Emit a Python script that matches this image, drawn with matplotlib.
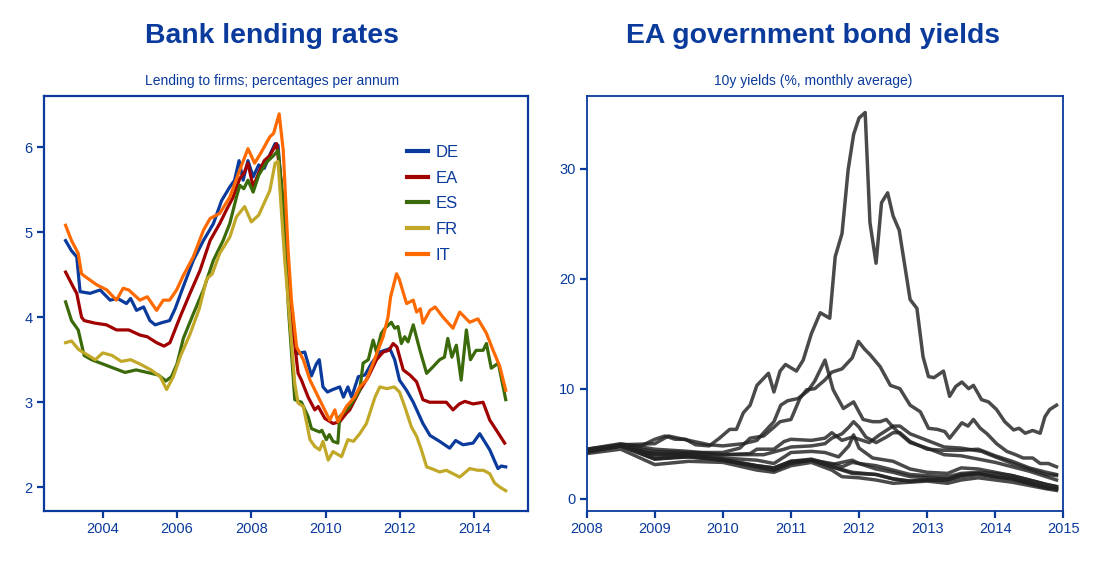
import matplotlib
matplotlib.use("Agg")
import matplotlib.pyplot as plt

plt.rcParams['font.family'] = ['Liberation Sans', 'DejaVu Sans']

NAVY = '#0a3a9c'

# ---------------- Left panel data: bank lending rates (%) ----------------
de_t = [2003.0, 2003.16, 2003.3, 2003.39, 2003.66, 2003.93, 2004.2, 2004.4, 2004.64, 2004.75, 2004.91, 2005.1,
        2005.27, 2005.41, 2005.63, 2005.8, 2005.95, 2006.17, 2006.44, 2006.71, 2006.98, 2007.2, 2007.42, 2007.55,
        2007.67, 2007.78, 2007.91, 2008.05, 2008.2, 2008.35, 2008.5, 2008.64, 2008.72, 2008.85, 2009.03, 2009.22,
        2009.44, 2009.55, 2009.62, 2009.75, 2009.83, 2009.93, 2010.05, 2010.2, 2010.38, 2010.48, 2010.6, 2010.7,
        2010.88, 2011.06, 2011.24, 2011.46, 2011.73, 2011.86, 2011.99, 2012.18, 2012.36, 2012.62, 2012.81, 2013.07,
        2013.34, 2013.5, 2013.7, 2013.97, 2014.15, 2014.42, 2014.64, 2014.73, 2014.85]
de_v = [4.90, 4.78, 4.71, 4.30, 4.28, 4.32, 4.20, 4.22, 4.16, 4.22, 4.08, 4.12,
        3.96, 3.91, 3.94, 3.96, 4.10, 4.36, 4.67, 4.90, 5.10, 5.37, 5.53, 5.61,
        5.84, 5.61, 5.84, 5.65, 5.79, 5.75, 5.91, 6.04, 6.02, 5.30, 4.20, 3.57,
        3.59, 3.42, 3.31, 3.45, 3.50, 3.18, 3.12, 3.15, 3.18, 3.06, 3.18, 3.06,
        3.30, 3.32, 3.46, 3.59, 3.63, 3.50, 3.26, 3.14, 3.00, 2.75, 2.61, 2.54,
        2.46, 2.55, 2.50, 2.52, 2.63, 2.44, 2.22, 2.25, 2.24]

ea_t = [2003.0, 2003.2, 2003.3, 2003.43, 2003.5, 2003.79, 2004.1, 2004.37, 2004.7, 2005.0, 2005.2, 2005.45,
        2005.65, 2005.81, 2006.08, 2006.35, 2006.62, 2006.89, 2007.15, 2007.33, 2007.51, 2007.69, 2007.8,
        2007.91, 2008.05, 2008.23, 2008.35, 2008.5, 2008.68, 2008.8, 2009.03, 2009.26, 2009.35, 2009.53,
        2009.71, 2009.8, 2009.98, 2010.2, 2010.38, 2010.56, 2010.65, 2010.92, 2011.15, 2011.37, 2011.55,
        2011.7, 2011.82, 2011.92, 2012.09, 2012.27, 2012.45, 2012.62, 2012.8, 2013.07, 2013.25, 2013.43,
        2013.6, 2013.75, 2013.97, 2014.24, 2014.42, 2014.6, 2014.82]
ea_v = [4.53, 4.36, 4.28, 4.00, 3.96, 3.93, 3.91, 3.85, 3.85, 3.79, 3.77, 3.70,
        3.66, 3.70, 4.00, 4.28, 4.55, 4.90, 5.10, 5.26, 5.41, 5.63, 5.69,
        5.81, 5.53, 5.73, 5.84, 5.90, 6.04, 5.60, 4.20, 3.34, 3.26, 3.06,
        2.91, 2.95, 2.81, 2.75, 2.77, 2.87, 2.91, 3.14, 3.30, 3.50, 3.59,
        3.61, 3.69, 3.65, 3.38, 3.32, 3.24, 3.03, 3.00, 3.00, 3.00, 2.91,
        2.98, 3.01, 2.98, 3.00, 2.79, 2.67, 2.52]

es_t = [2003.0, 2003.16, 2003.34, 2003.5, 2003.7, 2004.0, 2004.3, 2004.6, 2004.9, 2005.2, 2005.5, 2005.7,
        2005.85, 2006.0, 2006.17, 2006.44, 2006.71, 2006.98, 2007.24, 2007.42, 2007.6, 2007.69, 2007.8,
        2007.91, 2008.05, 2008.2, 2008.41, 2008.6, 2008.72, 2008.85, 2009.0, 2009.17, 2009.35, 2009.53,
        2009.62, 2009.84, 2009.9, 2010.02, 2010.1, 2010.2, 2010.33, 2010.38, 2010.56, 2010.65, 2010.92,
        2011.01, 2011.15, 2011.28, 2011.37, 2011.5, 2011.6, 2011.77, 2011.86, 2011.95, 2012.04, 2012.13,
        2012.22, 2012.36, 2012.54, 2012.72, 2012.9, 2013.07, 2013.2, 2013.29, 2013.4, 2013.52, 2013.65,
        2013.79, 2013.9, 2014.05, 2014.24, 2014.33, 2014.46, 2014.65, 2014.85]
es_v = [4.18, 3.96, 3.85, 3.55, 3.50, 3.45, 3.40, 3.35, 3.38, 3.35, 3.32, 3.25,
        3.30, 3.45, 3.75, 4.04, 4.32, 4.67, 4.90, 5.10, 5.41, 5.55, 5.51,
        5.61, 5.47, 5.67, 5.82, 5.90, 5.96, 5.40, 4.10, 3.03, 3.00, 2.83,
        2.69, 2.65, 2.67, 2.56, 2.62, 2.54, 2.52, 2.83, 2.91, 2.95, 3.14,
        3.46, 3.50, 3.73, 3.59, 3.81, 3.87, 3.94, 3.87, 3.89, 3.69, 3.77,
        3.71, 3.91, 3.61, 3.34, 3.42, 3.50, 3.53, 3.75, 3.53, 3.67, 3.26,
        3.85, 3.50, 3.61, 3.61, 3.69, 3.40, 3.46, 3.03]

fr_t = [2003.0, 2003.16, 2003.35, 2003.5, 2003.8, 2004.0, 2004.25, 2004.5, 2004.75, 2005.0, 2005.3, 2005.55,
        2005.72, 2005.9, 2006.1, 2006.35, 2006.6, 2006.8, 2006.95, 2007.15, 2007.42, 2007.6, 2007.82, 2008.0,
        2008.2, 2008.5, 2008.64, 2008.72, 2008.9, 2009.03, 2009.17, 2009.26, 2009.4, 2009.58, 2009.71,
        2009.84, 2009.93, 2010.07, 2010.2, 2010.43, 2010.6, 2010.75, 2010.92, 2011.1, 2011.33, 2011.46,
        2011.65, 2011.85, 2011.99, 2012.13, 2012.31, 2012.45, 2012.58, 2012.72, 2012.85, 2013.07, 2013.25,
        2013.43, 2013.61, 2013.88, 2014.1, 2014.25, 2014.42, 2014.55, 2014.7, 2014.85]
fr_v = [3.70, 3.72, 3.62, 3.58, 3.50, 3.58, 3.55, 3.48, 3.50, 3.45, 3.38, 3.30,
        3.15, 3.30, 3.55, 3.80, 4.10, 4.45, 4.51, 4.75, 4.94, 5.18, 5.30, 5.12,
        5.20, 5.49, 5.81, 5.83, 4.67, 4.00, 3.22, 2.99, 2.95, 2.56, 2.48,
        2.44, 2.54, 2.32, 2.42, 2.36, 2.56, 2.54, 2.63, 2.75, 3.06, 3.18,
        3.16, 3.18, 3.12, 2.95, 2.71, 2.60, 2.44, 2.24, 2.22, 2.18, 2.20,
        2.16, 2.12, 2.22, 2.20, 2.20, 2.16, 2.05, 2.00, 1.96]

it_t = [2003.0, 2003.16, 2003.34, 2003.43, 2003.55, 2003.84, 2004.11, 2004.37, 2004.55, 2004.7, 2005.0, 2005.2,
        2005.45, 2005.63, 2005.8, 2005.99, 2006.17, 2006.44, 2006.71, 2006.89, 2007.15, 2007.42, 2007.69,
        2007.91, 2008.09, 2008.27, 2008.5, 2008.6, 2008.75, 2008.86, 2008.99, 2009.08, 2009.22, 2009.4,
        2009.58, 2009.76, 2009.93, 2010.11, 2010.25, 2010.33, 2010.56, 2010.78, 2010.92, 2011.1, 2011.28,
        2011.55, 2011.68, 2011.75, 2011.91, 2011.98, 2012.18, 2012.36, 2012.45, 2012.55, 2012.62, 2012.81,
        2012.95, 2013.16, 2013.43, 2013.61, 2013.88, 2014.1, 2014.33, 2014.51, 2014.69, 2014.85]
it_v = [5.08, 4.90, 4.75, 4.51, 4.47, 4.38, 4.32, 4.20, 4.34, 4.32, 4.20, 4.24,
        4.08, 4.20, 4.20, 4.32, 4.49, 4.71, 5.02, 5.16, 5.22, 5.41, 5.73,
        5.98, 5.81, 5.94, 6.12, 6.16, 6.39, 5.96, 4.79, 4.20, 3.65, 3.50,
        3.26, 3.10, 2.95, 2.79, 2.91, 2.77, 2.95, 3.06, 3.18, 3.26, 3.46,
        3.77, 4.00, 4.24, 4.51, 4.45, 4.16, 4.20, 4.06, 4.10, 3.93, 4.08,
        4.12, 4.00, 3.87, 4.06, 3.94, 3.98, 3.81, 3.61, 3.42, 3.14]

lend_names = ['DE', 'EA', 'ES', 'FR', 'IT']
lend_colors = ['#0a3a9c', '#a00000', '#3a6a0a', '#c2a828', '#ff6a00']

# ---------------- Right panel data: 10y government bond yields (%) ----------------
gr_t = [2008.0, 2008.3, 2008.5, 2008.8, 2009.0, 2009.15, 2009.3, 2009.45, 2009.6, 2009.8, 2009.95, 2010.1,
        2010.2, 2010.3, 2010.4, 2010.5, 2010.67, 2010.75, 2010.84, 2010.92, 2011.08, 2011.18, 2011.3, 2011.43,
        2011.57, 2011.65, 2011.75, 2011.84, 2011.92, 2012.0, 2012.09, 2012.16, 2012.25, 2012.33, 2012.42,
        2012.5, 2012.59, 2012.75, 2012.85, 2012.94, 2013.02, 2013.1, 2013.24, 2013.33, 2013.42, 2013.51,
        2013.61, 2013.68, 2013.8, 2013.9, 2014.02, 2014.14, 2014.27, 2014.35, 2014.44, 2014.55, 2014.66,
        2014.73, 2014.8, 2014.9]
gr_v = [4.4, 4.6, 4.9, 4.8, 5.4, 5.7, 5.4, 5.4, 4.9, 4.8, 5.5, 6.3,
        6.3, 7.8, 8.5, 10.3, 11.4, 9.7, 11.6, 12.2, 11.6, 12.6, 15.0, 16.9,
        16.4, 22.0, 24.1, 29.9, 33.1, 34.6, 35.1, 25.1, 21.4, 26.9, 27.8,
        25.7, 24.4, 18.1, 17.3, 12.9, 11.1, 11.0, 11.6, 9.3, 10.2, 10.6,
        10.0, 10.3, 9.0, 8.8, 8.1, 7.0, 6.25, 6.4, 5.95, 6.2, 5.95,
        7.45, 8.1, 8.5]

pt_t = [2008.0, 2008.5, 2009.0, 2009.5, 2010.0, 2010.25, 2010.4, 2010.6, 2010.75, 2010.84, 2011.0, 2011.13,
        2011.23, 2011.35, 2011.5, 2011.6, 2011.75, 2011.9, 2011.99, 2012.08, 2012.16, 2012.31, 2012.46, 2012.6,
        2012.75, 2012.9, 2013.02, 2013.15, 2013.26, 2013.33, 2013.42, 2013.51, 2013.6, 2013.68, 2013.78,
        2013.88, 2014.02, 2014.17, 2014.3, 2014.41, 2014.55, 2014.66, 2014.78, 2014.9]
pt_v = [4.4, 4.8, 4.3, 4.2, 4.2, 4.6, 5.5, 5.7, 6.5, 7.0, 7.2, 9.1,
        9.9, 10.0, 10.8, 11.5, 11.8, 12.8, 14.3, 13.6, 13.1, 12.0, 10.3, 10.0,
        8.5, 7.9, 6.4, 6.3, 6.1, 5.5, 6.2, 6.9, 6.6, 7.2, 6.4,
        5.9, 5.0, 4.3, 4.0, 3.7, 3.7, 3.2, 3.2, 2.9]

ie_t = [2008.0, 2008.5, 2009.0, 2009.2, 2009.5, 2009.8, 2010.0, 2010.3, 2010.5, 2010.6, 2010.75, 2010.85,
        2010.95, 2011.1, 2011.25, 2011.35, 2011.5, 2011.62, 2011.77, 2011.92, 2012.06, 2012.2, 2012.31, 2012.4,
        2012.5, 2012.6, 2012.75, 2013.0, 2013.25, 2013.5, 2013.75, 2014.0, 2014.25, 2014.5, 2014.75, 2014.9]
ie_v = [4.5, 4.9, 5.0, 5.7, 5.3, 4.9, 4.8, 5.0, 5.3, 6.0, 7.0, 8.5,
        8.9, 9.1, 9.8, 10.7, 12.6, 9.9, 8.2, 8.8, 7.2, 7.0, 7.0, 7.2,
        6.5, 5.9, 5.1, 4.6, 4.0, 3.9, 3.6, 3.3, 2.9, 2.5, 2.0, 1.7]

es2_t = [2008.0, 2008.5, 2009.0, 2009.5, 2010.0, 2010.4, 2010.5, 2010.75, 2010.9, 2011.0, 2011.3, 2011.5,
         2011.6, 2011.75, 2011.9, 2012.0, 2012.15, 2012.3, 2012.5, 2012.6, 2012.75, 2013.0, 2013.25, 2013.5,
         2013.6, 2013.8, 2014.0, 2014.25, 2014.5, 2014.75, 2014.9]
es2_v = [4.3, 4.8, 4.0, 4.1, 4.0, 4.1, 4.5, 4.5, 5.2, 5.4, 5.3, 5.5,
         6.0, 5.3, 5.6, 5.4, 5.1, 5.8, 6.6, 6.6, 5.9, 5.3, 4.7, 4.6,
         4.5, 4.3, 3.8, 3.2, 2.7, 2.2, 2.1]

it2_t = [2008.0, 2008.5, 2009.0, 2009.5, 2010.0, 2010.4, 2010.6, 2010.9, 2011.0, 2011.3, 2011.5, 2011.6,
         2011.75, 2011.85, 2011.92, 2012.0, 2012.1, 2012.25, 2012.4, 2012.5, 2012.6, 2012.75, 2013.0, 2013.25,
         2013.5, 2013.75, 2014.0, 2014.25, 2014.5, 2014.75, 2014.9]
it2_v = [4.5, 5.0, 4.5, 4.3, 4.0, 4.0, 4.0, 4.5, 4.7, 4.8, 5.0, 5.5,
         5.9, 6.5, 7.0, 6.5, 5.6, 5.1, 5.6, 6.0, 6.0, 5.2, 4.5, 4.4,
         4.4, 4.5, 3.9, 3.4, 2.8, 2.4, 2.2]

be_t = [2008.0, 2008.5, 2008.9, 2009.5, 2010.0, 2010.5, 2010.75, 2010.9, 2011.0, 2011.3, 2011.5, 2011.7,
        2011.85, 2011.92, 2012.0, 2012.2, 2012.5, 2012.75, 2013.0, 2013.3, 2013.5, 2013.75, 2014.0, 2014.25,
        2014.5, 2014.75, 2014.9]
be_v = [4.4, 4.8, 4.2, 4.0, 3.7, 3.5, 3.2, 3.8, 4.2, 4.3, 4.2, 3.8,
        4.8, 5.8, 4.6, 3.7, 3.4, 2.7, 2.4, 2.3, 2.8, 2.7, 2.4, 2.1,
        1.7, 1.3, 1.1]

at_t = [2008.0, 2008.5, 2009.0, 2009.5, 2010.0, 2010.5, 2010.75, 2011.0, 2011.3, 2011.6, 2011.9, 2012.0,
        2012.25, 2012.5, 2012.75, 2013.0, 2013.3, 2013.5, 2013.75, 2014.0, 2014.25, 2014.5, 2014.75, 2014.9]
at_v = [4.3, 4.8, 4.0, 4.0, 3.6, 3.0, 2.8, 3.4, 3.6, 3.1, 3.5, 3.2,
        2.7, 2.4, 2.0, 1.9, 1.8, 2.2, 2.3, 2.0, 1.8, 1.4, 1.0, 0.9]

fr2_t = [2008.0, 2008.5, 2009.0, 2009.5, 2010.0, 2010.5, 2010.75, 2011.0, 2011.3, 2011.6, 2011.75, 2011.9,
         2012.0, 2012.25, 2012.5, 2012.75, 2013.0, 2013.3, 2013.5, 2013.75, 2014.0, 2014.25, 2014.5, 2014.75,
         2014.9]
fr2_v = [4.3, 4.8, 3.6, 3.8, 3.5, 3.0, 2.8, 3.4, 3.5, 3.2, 2.9, 3.3,
         3.2, 3.0, 2.6, 2.2, 2.1, 2.0, 2.3, 2.4, 2.3, 2.1, 1.7, 1.3,
         1.1]

fi_t = [2008.0, 2008.5, 2009.0, 2009.5, 2010.0, 2010.5, 2010.75, 2011.0, 2011.3, 2011.6, 2011.9, 2012.25,
        2012.5, 2012.75, 2013.0, 2013.3, 2013.5, 2013.75, 2014.0, 2014.25, 2014.5, 2014.75, 2014.9]
fi_v = [4.2, 4.8, 3.6, 3.9, 3.5, 2.9, 2.6, 3.3, 3.5, 2.9, 2.4, 2.2,
        1.8, 1.6, 1.7, 1.7, 2.0, 2.2, 2.0, 1.8, 1.4, 1.0, 0.9]

nl_t = [2008.0, 2008.5, 2009.0, 2009.5, 2010.0, 2010.5, 2010.75, 2011.0, 2011.3, 2011.6, 2011.9, 2012.25,
        2012.5, 2012.75, 2013.0, 2013.3, 2013.5, 2013.75, 2014.0, 2014.25, 2014.5, 2014.75, 2014.9]
nl_v = [4.3, 4.8, 3.7, 3.8, 3.5, 2.9, 2.6, 3.2, 3.5, 2.9, 2.3, 2.2,
        1.8, 1.6, 1.7, 1.7, 2.1, 2.3, 2.0, 1.8, 1.4, 1.0, 0.9]

de2_t = [2008.0, 2008.5, 2009.0, 2009.5, 2010.0, 2010.5, 2010.75, 2011.0, 2011.3, 2011.6, 2011.75, 2012.0,
         2012.25, 2012.5, 2012.75, 2013.0, 2013.3, 2013.5, 2013.75, 2014.0, 2014.25, 2014.5, 2014.75, 2014.9]
de2_v = [4.1, 4.5, 3.1, 3.4, 3.3, 2.6, 2.4, 3.0, 3.3, 2.6, 2.0, 1.9,
         1.7, 1.4, 1.5, 1.6, 1.4, 1.7, 1.9, 1.7, 1.5, 1.2, 0.9, 0.75]

# ---------------- Figure ----------------
fig = plt.figure(figsize=(10.97, 5.63), dpi=100)
ax1 = fig.add_axes([0.0398, 0.0929, 0.4412, 0.7366])
ax2 = fig.add_axes([0.5348, 0.0929, 0.4345, 0.7366])

lend_series = [(de_t, de_v), (ea_t, ea_v), (es_t, es_v), (fr_t, fr_v), (it_t, it_v)]
for (t, v), name, col in zip(lend_series, lend_names, lend_colors):
    ax1.plot(t, v, color=col, lw=2.3, label=name, solid_joinstyle='round')

ax1.set_xlim(2002.41, 2015.44)
ax1.set_ylim(1.725, 6.6)
ax1.set_xticks([2004, 2006, 2008, 2010, 2012, 2014])
ax1.set_yticks([2, 3, 4, 5, 6])

leg = ax1.legend(loc='upper left', bbox_to_anchor=(0.75, 0.882), frameon=False, fontsize=12,
                 handlelength=1.3, handletextpad=0.45, labelspacing=0.64, borderpad=0, borderaxespad=0)
for txt in leg.get_texts():
    txt.set_color(NAVY)
for h in leg.get_lines():
    h.set_linewidth(3)

bond_series = [(gr_t, gr_v), (pt_t, pt_v), (ie_t, ie_v), (es2_t, es2_v), (it2_t, it2_v), (be_t, be_v),
               (at_t, at_v), (fr2_t, fr2_v), (fi_t, fi_v), (nl_t, nl_v), (de2_t, de2_v)]
for t, v in bond_series:
    ax2.plot(t, v, color='#222222', alpha=0.82, lw=2.5, solid_joinstyle='round')

ax2.set_xlim(2008, 2015)
ax2.set_ylim(-1.09, 36.6)
ax2.set_xticks(range(2008, 2016))
ax2.set_yticks([0, 10, 20, 30])

for ax, lw in ((ax1, 1.6), (ax2, 1.3)):
    for s in ax.spines.values():
        s.set_color(NAVY)
        s.set_linewidth(lw)
    ax.tick_params(axis='both', direction='out', length=5, width=1.6, color=NAVY,
                   labelcolor=NAVY, labelsize=10.5, pad=3)

fig.text(272 / 1097, 1 - 36 / 563, 'Bank lending rates', ha='center', va='center',
         fontsize=20.4, fontweight='bold', color=NAVY)
fig.text(272 / 1097, 1 - 81 / 563, 'Lending to firms; percentages per annum', ha='center', va='center',
         fontsize=10, color=NAVY)
fig.text(813 / 1097, 1 - 36 / 563, 'EA government bond yields', ha='center', va='center',
         fontsize=20.4, fontweight='bold', color=NAVY)
fig.text(813 / 1097, 1 - 81 / 563, '10y yields (%, monthly average)', ha='center', va='center',
         fontsize=10, color=NAVY)

fig.savefig('out.png', dpi=100)
